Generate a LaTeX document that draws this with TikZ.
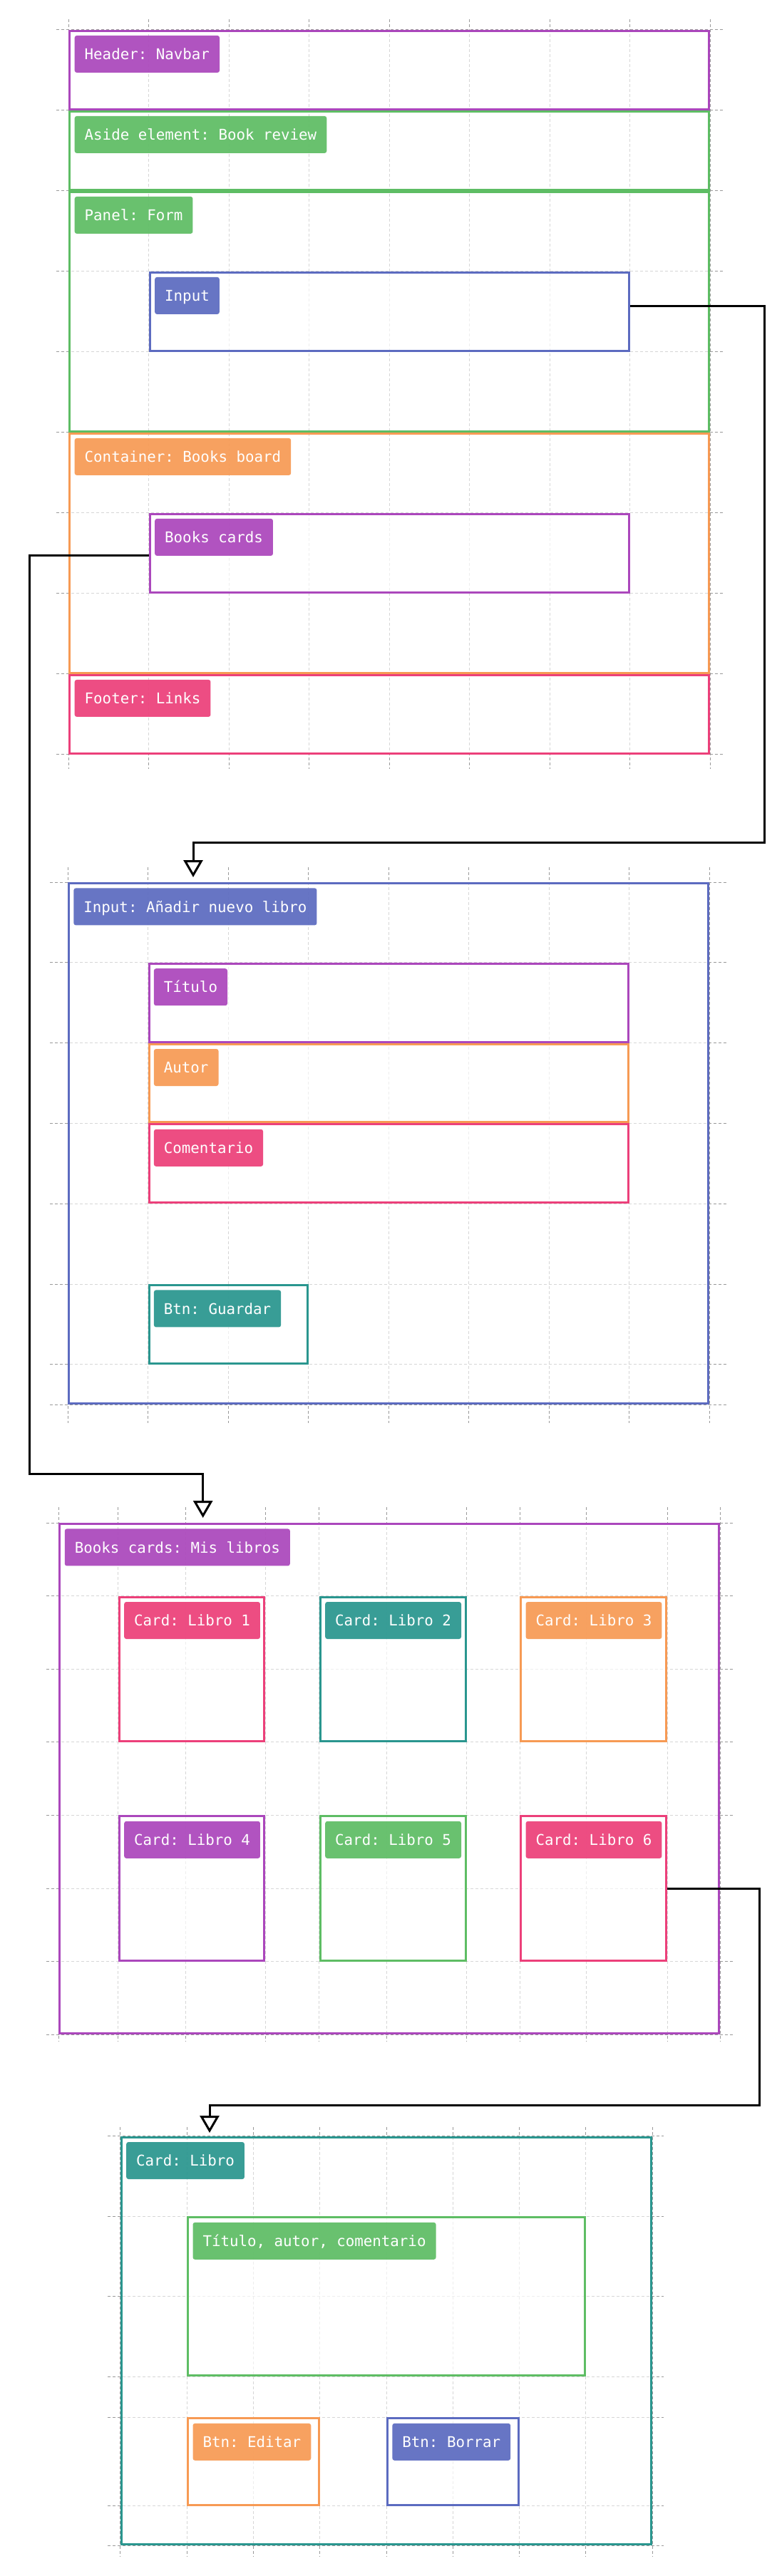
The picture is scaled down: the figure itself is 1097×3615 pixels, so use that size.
\documentclass[tikz,border=0pt]{standalone}
\usepackage{fontspec}
\setmonofont{DejaVu Sans Mono}
\usetikzlibrary{arrows.meta, fit, positioning}

\definecolor{cpurple}{HTML}{AB47BC}
\definecolor{cgreen}{HTML}{5EBD64}
\definecolor{cindigo}{HTML}{5C6BC0}
\definecolor{corange}{HTML}{F79A54}
\definecolor{cpink}{HTML}{EC407A}
\definecolor{cteal}{HTML}{2A968F}
\newcommand{\tagfont}{\ttfamily\fontsize{10.4}{12}\selectfont}

\begin{document}
\begin{tikzpicture}[x=0.5pt, y=-0.5pt,
  grid/.style={gray!80, line width=0.5pt, dash pattern=on 2pt off 1.5pt},
  box/.style={draw=#1, line width=1.5pt, fill=white, fill opacity=0.6, inner sep=-0.75pt},
  tag/.style={fill=#1, fill opacity=0.93, text opacity=1, text=white, rounded corners=1.5pt,
    font=\tagfont, inner xsep=7pt, inner ysep=0pt, minimum height=26pt,
    text height=7.6pt, text depth=0pt},
  flow/.style={line width=1.5pt, -{Triangle[open, fill=white, length=12pt, width=13.5pt]}}]

\useasboundingbox (0,0) rectangle (1097,3615);

% grids
\foreach \x in {96.3,208.8,...,997} \draw[grid] (\x,27) -- (\x,1079);
\foreach \y in {41.5,154.5,...,1059} \draw[grid] (79,\y) -- (1016,\y);
\foreach \x in {95,207.5,...,996} \draw[grid] (\x,1217) -- (\x,1997);
\foreach \y in {1238,1350.8,...,1915,1971} \draw[grid] (70,\y) -- (1019,\y);
\foreach \x in {82.4,165.8,260,372.2,447.8,542,654.9,729.2,822.8,936.3,1010} \draw[grid] (\x,2115) -- (\x,2865);
\foreach \y in {2137,2239.6,...,2856} \draw[grid] (65,\y) -- (1030,\y);
\foreach \x in {168.8,262.1,...,916} \draw[grid] (\x,2984.5) -- (\x,3588);
\foreach \y in {2997.6,3110.4,3222.4,3335.2,3392.4,3516.7,3572.2} \draw[grid] (151,\y) -- (931,\y);

% page layout
\node[box=cpurple, fit={(96.3,41.5) (996.3,154.5)}] (header) {};
\node[box=cgreen, fit={(96.3,154.5) (996.3,267.5)}] (aside) {};
\node[box=cgreen, fit={(96.3,267.5) (996.3,606.5)}] (panel) {};
\node[box=cindigo, fit={(208.8,380.5) (883.8,493.5)}] (input) {};
\node[box=corange, fit={(96.3,606.5) (996.3,945.5)}] (container) {};
\node[box=cpurple, fit={(208.8,719.5) (883.8,832.5)}] (bookscards) {};
\node[box=cpink, fit={(96.3,945.5) (996.3,1058.5)}] (footer) {};

\node[tag=cpurple, below right=4pt and 4pt of header.north west] (header-tag) {Header: Navbar};
\node[tag=cgreen, below right=4pt and 4pt of aside.north west] (aside-tag) {Aside element: Book review};
\node[tag=cgreen, below right=4pt and 4pt of panel.north west] (panel-tag) {Panel: Form};
\node[tag=cindigo, below right=4pt and 4pt of input.north west] (input-tag) {Input};
\node[tag=corange, below right=4pt and 4pt of container.north west] (container-tag) {Container: Books board};
\node[tag=cpurple, below right=4pt and 4pt of bookscards.north west] (bookscards-tag) {Books cards};
\node[tag=cpink, below right=4pt and 4pt of footer.north west] (footer-tag) {Footer: Links};

% input form
\node[box=cindigo, fit={(95,1238) (995,1971)}] (form) {};
\node[box=cpurple, fit={(207.5,1350.8) (882.5,1463.6)}] (titulo) {};
\node[box=corange, fit={(207.5,1463.6) (882.5,1576.4)}] (autor) {};
\node[box=cpink, fit={(207.5,1576.4) (882.5,1689.2)}] (comentario) {};
\node[box=cteal, fit={(207.5,1802) (432.5,1914.8)}] (guardar) {};

\node[tag=cindigo, below right=4pt and 4pt of form.north west] (form-tag) {Input: Añadir nuevo libro};
\node[tag=cpurple, below right=4pt and 4pt of titulo.north west] (titulo-tag) {Título};
\node[tag=corange, below right=4pt and 4pt of autor.north west] (autor-tag) {Autor};
\node[tag=cpink, below right=4pt and 4pt of comentario.north west] (comentario-tag) {Comentario};
\node[tag=cteal, below right=4pt and 4pt of guardar.north west] (guardar-tag) {Btn: Guardar};

% book cards
\node[box=cpurple, fit={(82.4,2137) (1010,2855.2)}] (mislibros) {};
\node[box=cpink, fit={(165.8,2239.6) (372.2,2444.8)}] (card1) {};
\node[box=cteal, fit={(447.8,2239.6) (654.9,2444.8)}] (card2) {};
\node[box=corange, fit={(729.2,2239.6) (936.3,2444.8)}] (card3) {};
\node[box=cpurple, fit={(165.8,2547.4) (372.2,2752.6)}] (card4) {};
\node[box=cgreen, fit={(447.8,2547.4) (654.9,2752.6)}] (card5) {};
\node[box=cpink, fit={(729.2,2547.4) (936.3,2752.6)}] (card6) {};

\node[tag=cpurple, below right=4pt and 4pt of mislibros.north west] (mislibros-tag) {Books cards: Mis libros};
\node[tag=cpink, below right=4pt and 4pt of card1.north west] (card1-tag) {Card: Libro 1};
\node[tag=cteal, below right=4pt and 4pt of card2.north west] (card2-tag) {Card: Libro 2};
\node[tag=corange, below right=4pt and 4pt of card3.north west] (card3-tag) {Card: Libro 3};
\node[tag=cpurple, below right=4pt and 4pt of card4.north west] (card4-tag) {Card: Libro 4};
\node[tag=cgreen, below right=4pt and 4pt of card5.north west] (card5-tag) {Card: Libro 5};
\node[tag=cpink, below right=4pt and 4pt of card6.north west] (card6-tag) {Card: Libro 6};

% one card
\node[box=cteal, fit={(168.8,2997.6) (915.2,3572.2)}] (libro) {};
\node[box=cgreen, fit={(262.1,3110.4) (821.9,3335.2)}] (datos) {};
\node[box=corange, fit={(262.1,3392.4) (448.7,3516.7)}] (editar) {};
\node[box=cindigo, fit={(542,3392.4) (728.6,3516.7)}] (borrar) {};

\node[tag=cteal, below right=4pt and 4pt of libro.north west] (libro-tag) {Card: Libro};
\node[tag=cgreen, below right=4pt and 4pt of datos.north west] (datos-tag) {Título, autor, comentario};
\node[tag=corange, below right=4pt and 4pt of editar.north west] (editar-tag) {Btn: Editar};
\node[tag=cindigo, below right=4pt and 4pt of borrar.north west] (borrar-tag) {Btn: Borrar};

% connectors
\coordinate (j1) at (1072,1182);
\coordinate (e1) at (271,1231);
\coordinate (j2) at (41.5,2068);
\coordinate (e2) at (284.7,2130);
\coordinate (j3) at (1065.7,2954);
\coordinate (e3) at (294,2993);

\draw[flow] ([yshift=3.75pt]input.east) -| (j1) -| (e1); %input-form
\draw[flow] ([yshift=-1.8pt]bookscards.west) -| (j2) -| (e2); %bookscards-mislibros
\draw[flow] (card6.east) -| (j3) -| (e3); %card6-libro

\end{tikzpicture}
\end{document}
